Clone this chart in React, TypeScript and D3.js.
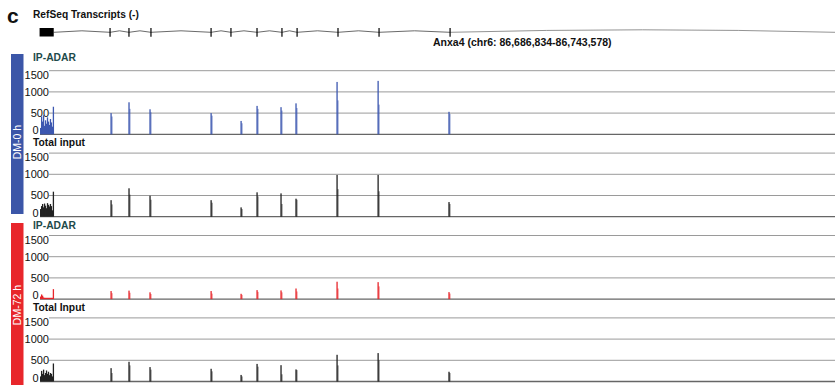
import React from 'react';
import * as d3 from 'd3';

// window shown: chr6:86,686,834-86,743,578, positions below in kb from window start
const regionKb = 56.744;
const binKb = 0.07;

// gene model (RefSeq, minus strand)
const geneBoxKb = [-0.03, 0.98];
const geneExonKb = [5.0, 6.35, 7.92, 12.21, 13.63, 15.49, 17.27, 18.35, 21.27, 24.2, 29.27];

// read-coverage peaks at exons
const peakKb = [5.07, 6.35, 7.85, 12.21, 14.35, 15.49, 17.2, 18.27, 21.2, 24.13, 29.19];

const ipDm0Main = [500, 755, 590, 500, 315, 670, 640, 730, 1235, 1260, 530];
const ipDm0Side = [420, 600, 520, 440, 260, 600, 560, 620, 800, 700, 480];
const inDm0Main = [390, 670, 495, 390, 220, 575, 550, 425, 985, 985, 345];
const inDm0Side = [290, 520, 400, 330, 180, 480, 300, 400, 650, 600, 300];
const ipDm72Main = [190, 200, 160, 190, 125, 212, 205, 250, 410, 400, 165];
const ipDm72Side = [140, 150, 120, 130, 100, 170, 160, 180, 250, 300, 130];
const inDm72Main = [315, 465, 340, 300, 155, 415, 385, 285, 630, 670, 230];
const inDm72Side = [200, 380, 280, 240, 120, 350, 170, 270, 380, 500, 200];

// coverage over the 3' UTR exon (one value per bin)
const ipDm0Utr = [150, 420, 300, 450, 200, 330, 250, 400, 300, 220, 360, 280, 180, 650];
const inDm0Utr = [180, 250, 300, 220, 310, 260, 200, 320, 280, 240, 300, 250, 150, 590];
const ipDm72Utr = [60, 110, 80, 40, 30, 30, 30, 30, 30, 30, 30, 30, 30, 235];
const inDm72Utr = [120, 250, 180, 280, 150, 200, 260, 180, 230, 150, 200, 180, 120, 425];

const yTicks = [0, 500, 1000, 1500];

const panels = [
  { label: 'IP-ADAR', labelColor: '#1d4a4a', color: '#3d58b0', main: ipDm0Main, side: ipDm0Side, utr: ipDm0Utr },
  { label: 'Total input', labelColor: '#111', color: '#222', main: inDm0Main, side: inDm0Side, utr: inDm0Utr },
  { label: 'IP-ADAR', labelColor: '#1d4a4a', color: '#e8262b', main: ipDm72Main, side: ipDm72Side, utr: ipDm72Utr },
  { label: 'Total Input', labelColor: '#111', color: '#222', main: inDm72Main, side: inDm72Side, utr: inDm72Utr },
];

const groups = [
  { name: 'DM-0 h', color: '#3b56a8', y0: 54, y1: 214, textY: 142 },
  { name: 'DM-72 h', color: '#e8262b', y0: 223, y1: 390, textY: 305 },
];

const font = 'Liberation Sans, Arial, Helvetica, sans-serif';

export default function App() {
  const width = 835;
  const height = 385;
  const x = d3.scaleLinear().domain([0, regionKb]).range([40, 835]);
  const binW = 1.3;
  const geneY = 32.3;

  const exonStops = [geneBoxKb[1], ...geneExonKb];
  const introns = exonStops.map((s, i) => [s, i < geneExonKb.length ? geneExonKb[i] : regionKb]);
  const arc = (a: number, b: number, h: number) => {
    const p = d3.path();
    p.moveTo(x(a), geneY);
    p.quadraticCurveTo((x(a) + x(b)) / 2, geneY - h, x(b), geneY);
    return p.toString();
  };

  return (
    <svg width={width} height={height} style={{ position: 'absolute', left: 0, top: 0, background: '#fff' }} fontFamily={font}>
      <text x={7} y={23} fontSize={21} fontWeight="bold" fill="#111">c</text>
      <text x={33} y={18} fontSize={10.2} fontWeight="bold" fill="#111">RefSeq Transcripts (-)</text>

      {introns.map(([a, b], i) => (
        <path key={'in' + i} d={arc(a, b, i === introns.length - 1 ? 5 : 3)} fill="none"
          stroke={i === introns.length - 1 ? '#777' : '#444'} strokeWidth={0.8} />
      ))}
      <rect x={x(geneBoxKb[0])} y={28} width={x(geneBoxKb[1]) - x(geneBoxKb[0])} height={8.5} fill="#000" />
      {geneExonKb.map((k, i) => (
        <line key={'ex' + i} x1={x(k)} x2={x(k)} y1={28} y2={36.7} stroke="#000" strokeWidth={1.2} />
      ))}
      <text x={433} y={45.5} fontSize={10.5} fontWeight="bold" fill="#111">Anxa4 (chr6: 86,686,834-86,743,578)</text>

      {groups.map((g) => (
        <g key={g.name}>
          <rect x={11} y={g.y0} width={12.5} height={g.y1 - g.y0} fill={g.color} />
          <text transform={`translate(21,${g.textY}) rotate(-90)`} textAnchor="middle" fontSize={10.5} fill="#fff">{g.name}</text>
        </g>
      ))}

      {panels.map((p, pi) => {
        const zero = 134.3 + pi * 82.4;
        const y = d3.scaleLinear().domain([0, 1500]).range([zero, zero - 63.6]);
        return (
          <g key={'p' + pi}>
            <text x={33} y={y(1500) - (pi === 0 ? 10.2 : 7)} fontSize={10.3} fontWeight="bold" fill={p.labelColor}>{p.label}</text>
            {yTicks.map((t) => (
              <g key={t}>
                <line x1={t === 0 ? 40 : 49} x2={835} y1={y(t)} y2={y(t)}
                  stroke={t === 0 ? '#666' : '#9a9a9a'} strokeWidth={t === 0 ? 1.3 : 1} />
                <text x={t === 0 ? 38.5 : 49} y={y(t)} textAnchor="end" fontSize={11} fill="#111"
                  dy={t === 1500 ? '0.75em' : t === 0 ? '0' : '0.35em'}>{t}</text>
              </g>
            ))}
            {p.utr.map((v, i) => (
              <rect key={'u' + i} x={x(i * binKb)} width={binW} y={y(v)} height={zero - y(v)} fill={p.color} />
            ))}
            {peakKb.map((k, i) => (
              <g key={'k' + i}>
                <rect x={x(k) - 0.6} width={binW} y={y(p.main[i])} height={zero - y(p.main[i])} fill={p.color} />
                <rect x={x(k + binKb) - 0.6} width={binW * 0.8} y={y(p.side[i])} height={zero - y(p.side[i])} fill={p.color} opacity={0.8} />
              </g>
            ))}
          </g>
        );
      })}
    </svg>
  );
}
